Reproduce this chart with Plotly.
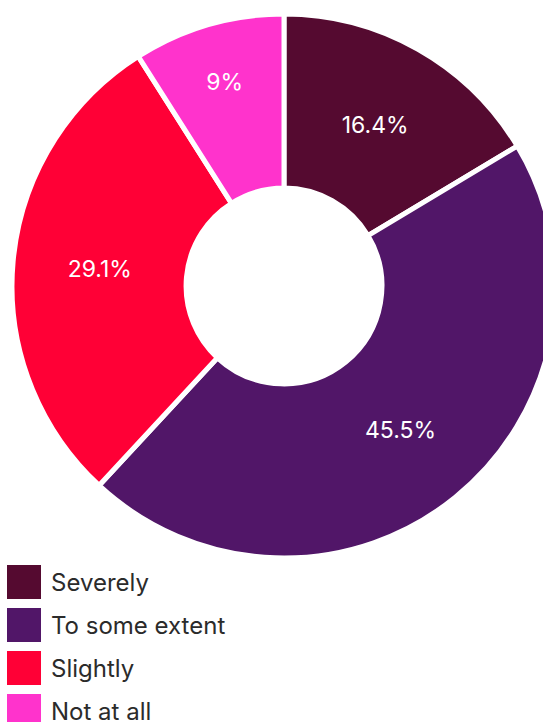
import plotly.graph_objects as go

labels = ["Severely", "To some extent", "Slightly", "Not at all"]
values = [16.4, 45.5, 29.1, 9]
colors = ["#550a30", "#511668", "#ff0036", "#ff33cc"]

W, H = 556, 722
R = 272
CX, CY = 284, 286

fig = go.Figure(go.Pie(
    labels=labels, values=values, sort=False, direction="clockwise", rotation=0,
    hole=0.36,
    marker=dict(colors=colors, line=dict(color="white", width=5)),
    texttemplate="%{value}%", textposition="inside", insidetextorientation="horizontal",
    textfont=dict(family="Inter", size=23, color="white"),
    showlegend=False, hoverinfo="label+percent",
    domain=dict(x=[(CX - R) / W, min(1.0, (CX + R) / W)],
                y=[1 - (CY + R) / H, 1 - (CY - R) / H]),
))

# legend drawn as layout shapes + annotations
top0, step, sq = 565, 43, 34
shapes, annos = [], []
for i, (lab, col) in enumerate(zip(labels, colors)):
    y0 = top0 + i * step
    shapes.append(dict(type="rect", xref="paper", yref="paper",
                       x0=7 / W, x1=41 / W, y0=1 - (y0 + sq) / H, y1=1 - y0 / H,
                       fillcolor=col, line=dict(width=0)))
    annos.append(dict(text=lab, xref="paper", yref="paper", x=49 / W, y=1 - (y0 + sq / 2) / H,
                      xanchor="left", yanchor="middle", showarrow=False,
                      font=dict(family="Inter", size=24, color="#2b2b2b")))

fig.update_layout(width=W, height=H, margin=dict(l=0, r=0, t=0, b=0),
                  paper_bgcolor="white", plot_bgcolor="white",
                  shapes=shapes, annotations=annos)

fig.write_html("out.html", config={"displayModeBar": False},
               post_script="document.body.style.margin='0';document.body.style.overflow='hidden';")
